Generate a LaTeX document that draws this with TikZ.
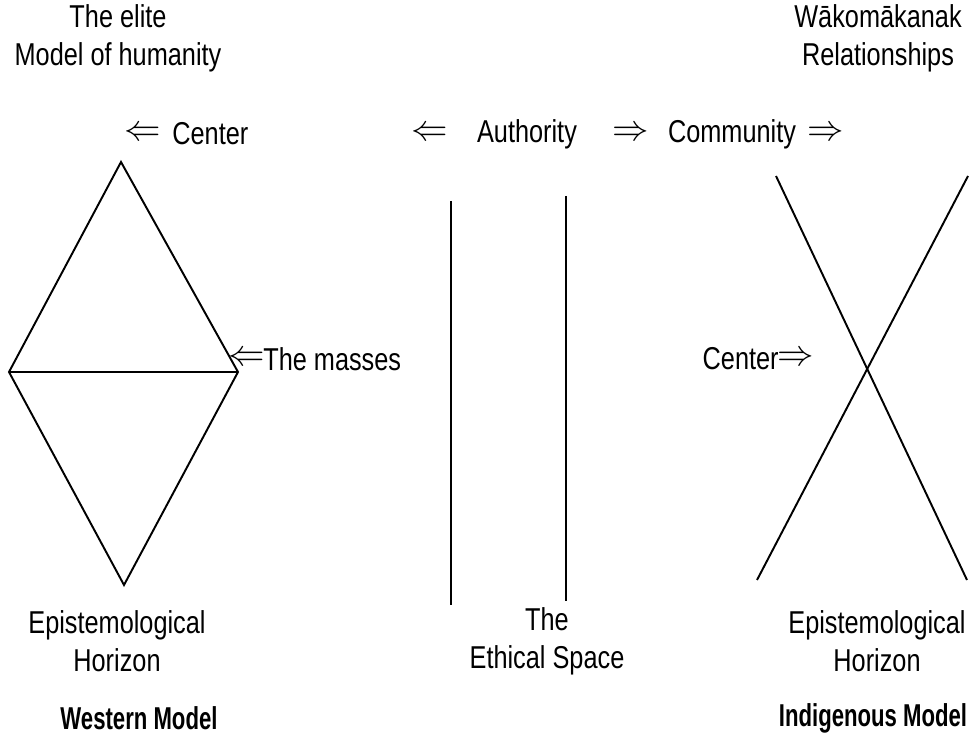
\documentclass[tikz,border=0pt]{standalone}
\usepackage{fontspec}
\setmainfont{Liberation Sans}[FakeStretch=0.8, BoldFeatures={FakeStretch=0.7}]
\usetikzlibrary{positioning}

\tikzset{
  label text/.style={font=\fontsize{18}{21.5}\selectfont, align=center, inner sep=0pt},
  title text/.style={label text, font=\fontsize{18}{21.5}\selectfont\bfseries},
  dbl arrow/.style={font=\fontsize{21}{21}\selectfont, inner sep=0pt},
  model line/.style={line width=1.1pt}
}

\begin{document}
\begin{tikzpicture}[x=0.02cm, y=-0.02cm]
\useasboundingbox (0,0) rectangle (969,742);

% Headings
\node[label text] (elite) at (118,38) {The elite\\Model of humanity};
\node[label text] (wako) at (878,38) {Wākomākanak\\Relationships};

% Row of arrows
\node[dbl arrow] (cenArrow) at (143,134) {$\Leftarrow$};
\node[label text, anchor=west] (cenTop) at (172,134) {Center};
\node[dbl arrow] (authArrow) at (430,134) {$\Leftarrow$};
\node[label text] (auth) at (527,134) {Authority};
\node[dbl arrow] (commArrowA) at (631,134) {$\Rightarrow$};
\node[label text] (comm) at (732,134) {Community};
\node[dbl arrow] (commArrowB) at (826,134) {$\Rightarrow$};

% Western model diamond
\coordinate (dTop) at (121,162);
\coordinate (dLeft) at (9,372);
\coordinate (dRight) at (238,372);
\coordinate (dBot) at (124,585);
\draw[model line, line join=miter] (dTop) -- (dRight) -- (dBot) -- (dLeft) -- cycle;
\draw[model line] (dLeft) -- (dRight);
\node[dbl arrow] (massArrow) at (247,359) {$\Leftarrow$};
\node[label text, anchor=west] (masses) at (263,359) {The masses};

% Ethical space
\coordinate (eA1) at (451,201);
\coordinate (eA2) at (451,605);
\coordinate (eB1) at (566,196);
\coordinate (eB2) at (566,601);
\draw[model line] (eA1) -- (eA2);
\draw[model line] (eB1) -- (eB2);

% Indigenous model cross
\coordinate (xTL) at (776,176);
\coordinate (xBR) at (967,580);
\coordinate (xTR) at (968,176);
\coordinate (xBL) at (757,580);
\draw[model line] (xTL) -- (xBR);
\draw[model line] (xTR) -- (xBL);
\node[label text, anchor=east] (cenMid) at (779,359) {Center};
\node[dbl arrow] (cenMidArrow) at (796,359) {$\Rightarrow$};

% Bottom labels
\node[label text] (epiL) at (117,641) {Epistemological\\Horizon};
\node[label text] (ethical) at (547,641) {The\\Ethical Space};
\node[label text] (epiR) at (877,641) {Epistemological\\Horizon};
\node[title text] (western) at (139,718) {Western Model};
\node[title text] (indig) at (873,718) {Indigenous Model};
\end{tikzpicture}
\end{document}
